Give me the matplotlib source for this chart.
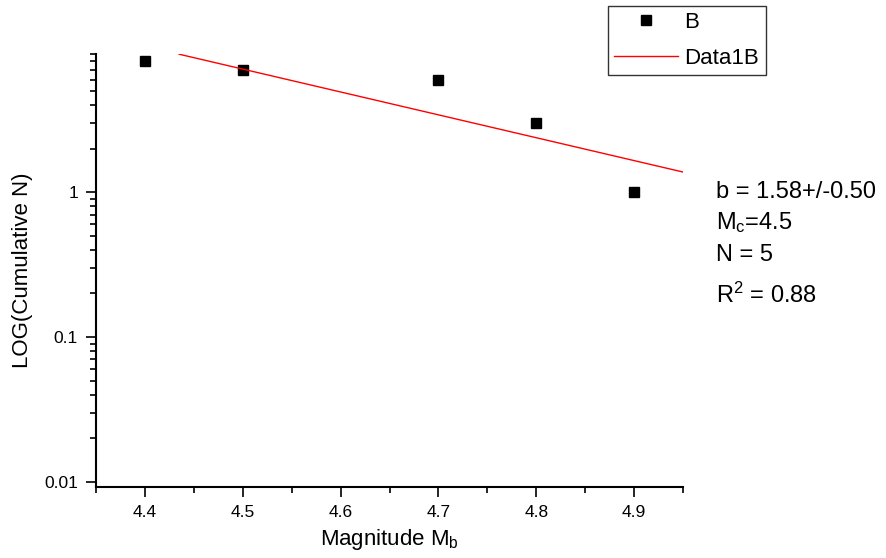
import numpy as np
import matplotlib.pyplot as plt
from matplotlib.ticker import FixedLocator, LogLocator, NullFormatter, MultipleLocator

plt.rcParams['font.family'] = ['Liberation Sans', 'DejaVu Sans']
plt.rcParams['mathtext.fontset'] = 'custom'
plt.rcParams['mathtext.rm'] = 'Liberation Sans'
plt.rcParams['mathtext.it'] = 'Liberation Sans'

# magnitude vs cumulative count
magnitude = [4.4, 4.5, 4.7, 4.8, 4.9]
cum_n = [8, 7, 6, 3, 1]

# Gutenberg-Richter fit: log10 N = a - b*M
b_value = 1.58
a_value = 7.96
fit_m = np.array([4.435, 4.95])
fit_n = 10 ** (a_value - b_value * fit_m)

fig = plt.figure(figsize=(8.86, 5.58), dpi=100)
ax = fig.add_axes([0.1084, 0.1272, 0.6626, 0.7760])

pts, = ax.plot(magnitude, cum_n, 's', color='black', ms=7, label='B')
fit_line, = ax.plot(fit_m, fit_n, color='red', lw=1, label='Data1B')

ax.set_yscale('log')
ax.set_xlim(4.35, 4.95)
ax.set_ylim(0.0092, 9)

ax.yaxis.set_major_locator(FixedLocator([0.01, 0.1, 1]))
ax.set_yticklabels(['0.01', '0.1', '1'])
ax.yaxis.set_minor_locator(LogLocator(base=10, subs=np.arange(2, 10)))
ax.yaxis.set_minor_formatter(NullFormatter())
ax.xaxis.set_major_locator(MultipleLocator(0.1))
ax.xaxis.set_minor_locator(MultipleLocator(0.05))
ax.xaxis.set_major_formatter(plt.FuncFormatter(lambda v, p: '%.1f' % v))

ax.tick_params(which='major', direction='out', length=7, width=1.2, labelsize=12.5)
ax.tick_params(axis='x', which='major', pad=6)
ax.tick_params(axis='y', which='major', pad=6)
ax.tick_params(which='minor', direction='out', length=4, width=1.2)
ax.spines['top'].set_visible(False)
ax.spines['right'].set_visible(False)
ax.spines['left'].set_linewidth(1.5)
ax.spines['bottom'].set_linewidth(1.5)

ax.set_xlabel('Magnitude M$_\\mathregular{b}$', fontsize=16, labelpad=5)
ax.set_ylabel('LOG(Cumulative N)', fontsize=16, labelpad=8)

fig.legend(handles=[pts, fit_line], loc='upper left', bbox_to_anchor=(0.686, 0.99),
           fontsize=16, frameon=True, fancybox=False, edgecolor='black',
           handlelength=2.85, handletextpad=0.3, borderpad=0.3, labelspacing=0.65,
           borderaxespad=0)

stats = [('b = 1.58+/-0.50', 0.656), ('M$_\\mathregular{c}$=4.5', 0.602),
         ('N = 5', 0.543), ('R$^\\mathregular{2}$ = 0.88', 0.471)]
for txt, yy in stats:
    fig.text(0.808, yy, txt, fontsize=17, va='center')

fig.savefig('out.png', dpi=100)
